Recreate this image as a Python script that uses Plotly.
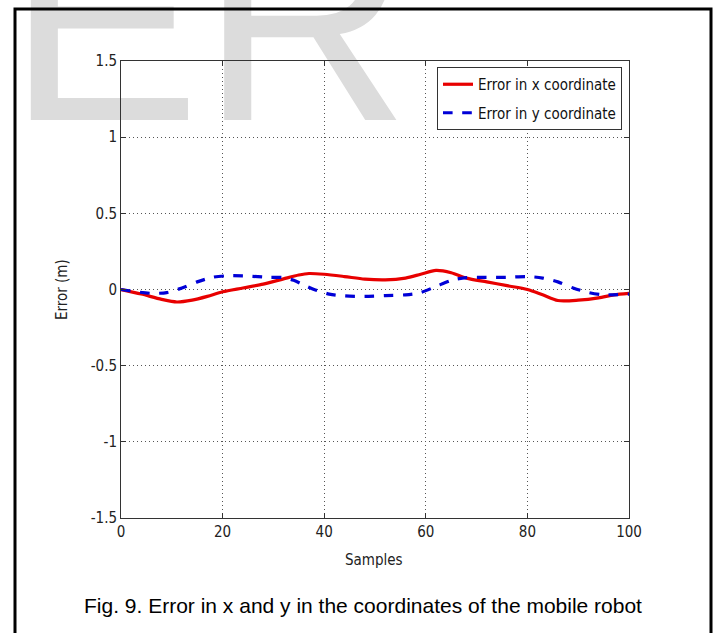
import plotly.graph_objects as go

# ---- data ----
samples_x = [0, 4, 8, 11, 14, 17, 20, 24, 28, 32, 35, 37, 40, 44, 48, 52, 56, 59, 62, 65, 68, 72, 76, 80, 83, 86, 90, 94, 97, 100]
err_x = [0, -0.03, -0.065, -0.082, -0.07, -0.045, -0.015, 0.01, 0.035, 0.07, 0.095, 0.105, 0.1, 0.085, 0.068, 0.063, 0.075, 0.1, 0.125, 0.11, 0.075, 0.05, 0.025, 0.0, -0.035, -0.072, -0.07, -0.055, -0.035, -0.025]

samples_y = [0, 3, 6, 9, 12, 15, 18, 21, 25, 29, 32, 34, 36, 38, 41, 44, 48, 52, 56, 59, 62, 65, 68, 72, 76, 80, 83, 86, 89, 92, 95, 100]
err_y = [0, -0.015, -0.025, -0.02, 0.01, 0.05, 0.08, 0.09, 0.088, 0.08, 0.078, 0.06, 0.03, 0.0, -0.03, -0.042, -0.045, -0.04, -0.035, -0.02, 0.02, 0.06, 0.078, 0.08, 0.08, 0.085, 0.075, 0.05, 0.01, -0.02, -0.035, -0.03]

x_ticks = [0, 20, 40, 60, 80, 100]
y_ticks = [-1.5, -1, -0.5, 0, 0.5, 1, 1.5]
y_tick_text = ["-1.5", "-1", "-0.5", "0", "0.5", "1", "1.5"]

series_names = ["Error in x coordinate", "Error in y coordinate"]
caption = "Fig. 9. Error in x and y in the coordinates of the mobile robot"

# ---- layout geometry (pixels) ----
W, H = 714, 633
L, R, T, B = 121, 629, 61, 518


def px(x):
    return (x - L) / (R - L)


def py(y):
    return (B - y) / (B - T)


FONT = "DejaVu Sans Condensed, Liberation Sans Narrow, Liberation Sans, Arial, sans-serif"

fig = go.Figure()
fig.add_trace(go.Scatter(x=samples_x, y=err_x, mode="lines", name=series_names[0], legendgroup="a",
                         line=dict(color="rgb(232,0,0)", width=3.2, shape="spline", smoothing=0.8)))
fig.add_trace(go.Scatter(x=samples_y, y=err_y, mode="lines", name=series_names[1], legendgroup="b",
                         line=dict(color="rgb(0,0,215)", width=3.2, dash="dash", shape="spline", smoothing=0.8)))

axis_common = dict(showline=True, linecolor="#333333", linewidth=1, mirror="ticks",
                   ticks="inside", ticklen=5, tickcolor="#333333",
                   showgrid=True, gridcolor="#555555", griddash="1px,3px", gridwidth=1,
                   zeroline=False, tickfont=dict(family=FONT, size=15, color="#222222"))

fig.update_xaxes(range=[0, 100], tickvals=x_ticks, **axis_common)
fig.update_yaxes(range=[-1.5, 1.5], tickvals=y_ticks, ticktext=y_tick_text, **axis_common)

fig.update_layout(
    width=W, height=H,
    margin=dict(l=L, r=W - R, t=T, b=H - B),
    paper_bgcolor="white",
    plot_bgcolor="rgba(0,0,0,0)",
    showlegend=True,
    legend=dict(x=px(437), y=py(67), xanchor="left", yanchor="top",
                bgcolor="white", bordercolor="#333333", borderwidth=1,
                font=dict(family=FONT, size=15, color="#111111"),
                traceorder="grouped", tracegroupgap=6),
    shapes=[
        # watermark
        dict(type="rect", xref="paper", yref="paper", layer="below",
             x0=px(4), x1=px(420), y0=py(154), y1=py(-200),
             line=dict(width=0), fillcolor="rgba(0,0,0,0)",
             label=dict(text="ER", textposition="bottom left", padding=0,
                        font=dict(family="Liberation Sans, Arial, sans-serif", size=290,
                                  color="#dcdcdc"))),
        # page border
        dict(type="path", xref="paper", yref="paper", layer="above",
             path=f"M {px(15)} {py(640)} L {px(15)} {py(9)} L {px(711)} {py(9)} L {px(711)} {py(640)}",
             line=dict(color="black", width=3)),
    ],
    annotations=[
        dict(text="Samples", x=px(374), y=py(560), xref="paper", yref="paper",
             showarrow=False, xanchor="center", yanchor="middle",
             font=dict(family=FONT, size=15, color="#222222")),
        dict(text="Error (m)", x=px(62), y=py(290), xref="paper", yref="paper",
             showarrow=False, xanchor="center", yanchor="middle", textangle=-90,
             font=dict(family=FONT, size=15, color="#222222")),
        dict(text=caption, x=px(363), y=py(605), xref="paper", yref="paper",
             showarrow=False, xanchor="center", yanchor="middle",
             font=dict(family="Liberation Sans, Arial, sans-serif", size=21, color="black")),
    ],
)

fig.write_html("out.html")
